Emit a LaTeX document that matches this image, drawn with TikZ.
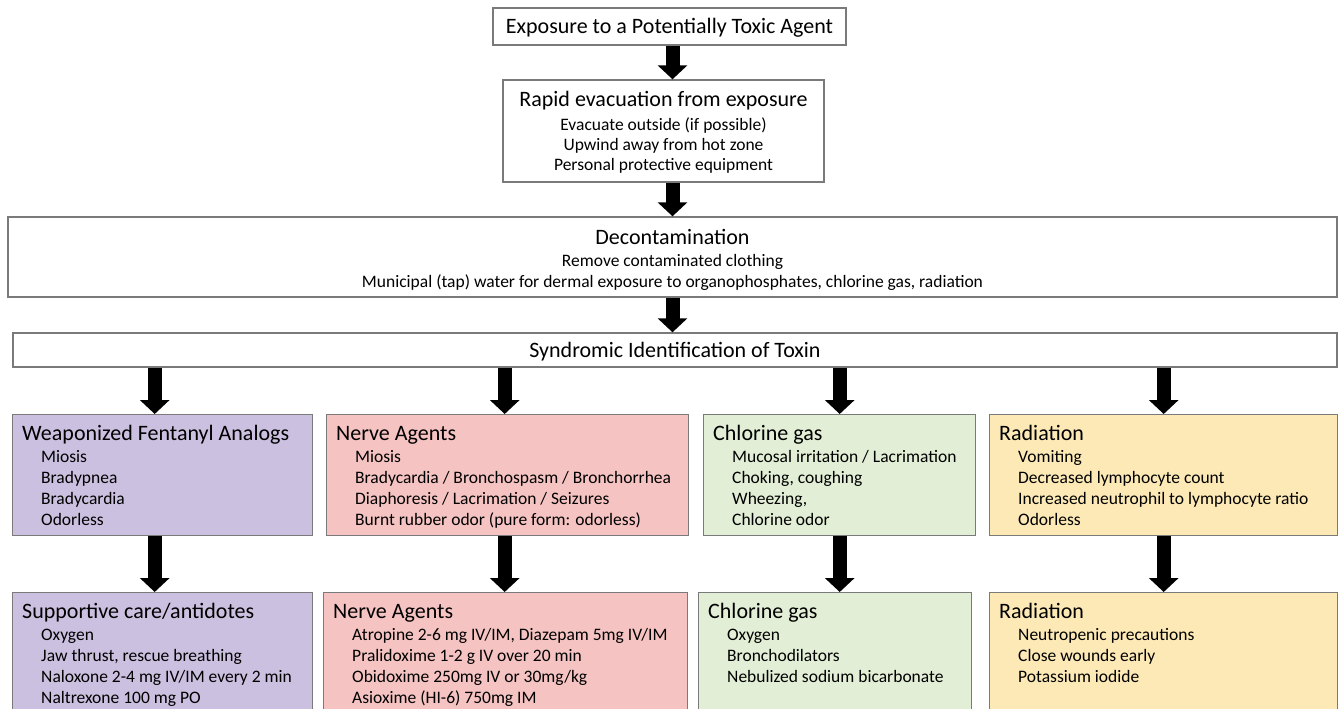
\documentclass[tikz,border=0pt]{standalone}
\usepackage{fontspec}
\setmainfont{Carlito}
\usetikzlibrary{arrows.meta}

\definecolor{boxline}{HTML}{7A7A7A}
\definecolor{fentanylfill}{HTML}{CBC0DF}
\definecolor{nervefill}{HTML}{F5C3C2}
\definecolor{chlorinefill}{HTML}{E2EED5}
\definecolor{radiationfill}{HTML}{FCE9B6}

\newcommand{\headfont}{\fontsize{22}{26}\selectfont}
\newcommand{\itemfont}{\fontsize{17.5}{21}\selectfont}

\tikzset{
	plainbox/.style={draw=boxline, line width=1.4pt, fill=white, align=center, inner sep=0pt, font=\itemfont},
	agentbox/.style={draw=boxline, line width=1.4pt, anchor=north west, inner sep=0pt},
	agenttitle/.style={anchor=base west, inner sep=0pt, font=\headfont},
	agentitems/.style={anchor=north west, inner sep=0pt, align=left, font=\itemfont},
	bigarrow/.style={line width=14pt, -{Triangle[width=29pt, length=14pt]}},
}

\newcommand{\drawagentbox}[8]{   % name, left, top, right, bottom, fill, title, items
	\node[agentbox, fill=#6, minimum width=#4-#2, minimum height=#5-#3] (#1) at (#2, #3) {};
	\node[agenttitle] (#1title) at ([shift={(10pt,-26pt)}]#1.north west) {#7};
	\node[agentitems] (#1items) at ([shift={(19pt,-8.5pt)}]#1title.base west) {\rule{0pt}{14pt}#8};
}

\begin{document}
\begin{tikzpicture}[x=1pt, y=-1pt]

\useasboundingbox (0, 0) rectangle (1344, 709);

% top of the chart
\node[plainbox, font=\headfont, text height=18pt, minimum width=353, minimum height=37] (expo) at (669.5, 26.5)
	{Exposure to a Potentially Toxic Agent};
\node[plainbox, minimum width=321, minimum height=102] (rapid) at (663.5, 131)
	{\rule{0pt}{18pt}{\headfont Rapid evacuation from exposure}\\[3pt]
	Evacuate outside (if possible)\\[-1pt] Upwind away from hot zone\\[-1pt] Personal protective equipment};
\node[plainbox, minimum width=1329, minimum height=80] (decon) at (672.5, 257)
	{\rule{0pt}{22pt}{\headfont Decontamination}\\[1pt]
	Remove contaminated clothing\\
	Municipal (tap) water for dermal exposure to organophosphates, chlorine gas, radiation};
\node[plainbox, font=\headfont, text height=18pt, minimum width=1324, minimum height=34] (synd) at (675, 350)
	{Syndromic Identification of Toxin};

\draw[bigarrow] ([xshift=3pt]expo.south) -- ([xshift=3pt]expo.south |- rapid.north);
\draw[bigarrow] ([xshift=9pt]rapid.south) -- ([xshift=9pt]rapid.south |- decon.north);
\draw[bigarrow] (decon.south) -- (decon.south |- synd.north);

% syndromes
\drawagentbox{weap}{12}{414}{312}{535}{fentanylfill}{Weaponized Fentanyl Analogs}
	{Miosis\\ Bradypnea\\ Bradycardia\\ Odorless}
\drawagentbox{nerve}{326}{414}{688}{535}{nervefill}{Nerve Agents}
	{Miosis\\ Bradycardia / Bronchospasm / Bronchorrhea\\ Diaphoresis / Lacrimation / Seizures\\ Burnt rubber odor (pure form: odorless)}
\drawagentbox{chlor}{703}{414}{975}{535}{chlorinefill}{Chlorine gas}
	{Mucosal irritation / Lacrimation\\ Choking, coughing\\ Wheezing,\\ Chlorine odor}
\drawagentbox{rad}{989}{414}{1337}{535}{radiationfill}{Radiation}
	{Vomiting\\ Decreased lymphocyte count\\ Increased neutrophil to lymphocyte ratio\\ Odorless}

% treatment
\drawagentbox{care}{12}{592}{312}{730}{fentanylfill}{Supportive care/antidotes}
	{Oxygen\\ Jaw thrust, rescue breathing\\ Naloxone 2-4 mg IV/IM every 2 min\\ Naltrexone 100 mg PO}
\drawagentbox{nervetx}{323}{592}{687}{730}{nervefill}{Nerve Agents}
	{Atropine 2-6 mg IV/IM, Diazepam 5mg IV/IM\\ Pralidoxime 1-2 g IV over 20 min\\ Obidoxime 250mg IV or 30mg/kg\\ Asioxime (HI-6) 750mg IM}
\drawagentbox{chlortx}{698}{592}{971}{730}{chlorinefill}{Chlorine gas}
	{Oxygen\\ Bronchodilators\\ Nebulized sodium bicarbonate}
\drawagentbox{radtx}{989}{592}{1337}{730}{radiationfill}{Radiation}
	{Neutropenic precautions\\ Close wounds early\\ Potassium iodide}

\draw[bigarrow] ([xshift=-8pt]synd.south -| weap.north) -- ([xshift=-8pt]weap.north);
\draw[bigarrow] ([xshift=-3pt]synd.south -| nerve.north) -- ([xshift=-3pt]nerve.north);
\draw[bigarrow] (synd.south -| chlor.north) -- (chlor.north);
\draw[bigarrow] (synd.south -| rad.north) -- (rad.north);

\draw[bigarrow] ([xshift=-8pt]weap.south) -- ([xshift=-8pt]weap.south |- care.north);
\draw[bigarrow] ([xshift=-3pt]nerve.south) -- ([xshift=-3pt]nerve.south |- nervetx.north);
\draw[bigarrow] (chlor.south) -- (chlor.south |- chlortx.north);
\draw[bigarrow] (rad.south) -- (rad.south |- radtx.north);

\end{tikzpicture}
\end{document}
